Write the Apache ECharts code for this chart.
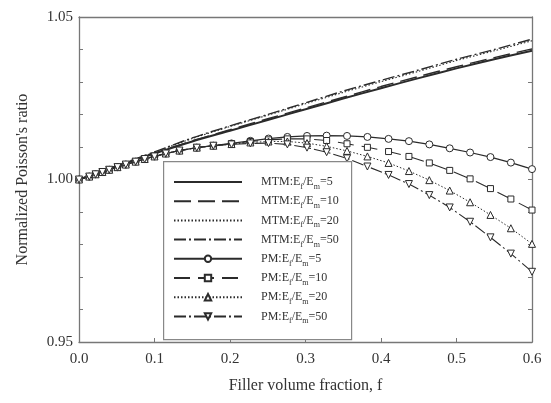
<!DOCTYPE html>
<html>
<head>
<meta charset="utf-8">
<script src="https://cdn.jsdelivr.net/npm/echarts@6/dist/echarts.min.js"></script>
<style>
html,body{margin:0;padding:0;background:#fff;}
#chart{width:551px;height:403px;}
</style>
</head>
<body>
<div id="chart"></div>
<script>
// ---------- data ----------
const xTicks = [0.0, 0.1, 0.2, 0.3, 0.4, 0.5, 0.6];
const yTickLabels = [0.95, 1.00, 1.05];

// MTM curves (no markers)
const fMTM = [0, 0.05, 0.1, 0.15, 0.2, 0.25, 0.3, 0.35, 0.4, 0.45, 0.5, 0.55, 0.6];
const mtm5  = [1.0, 1.0041, 1.0080, 1.0117, 1.0150, 1.0183, 1.0216, 1.0249, 1.0281, 1.0312, 1.0342, 1.0370, 1.0396];
const mtm10 = [1.0, 1.0041, 1.0081, 1.0119, 1.0153, 1.0187, 1.0220, 1.0253, 1.0286, 1.0317, 1.0347, 1.0375, 1.0402];
const mtm20 = [1.0, 1.0042, 1.0084, 1.0126, 1.0163, 1.0198, 1.0233, 1.0268, 1.0301, 1.0333, 1.0366, 1.0396, 1.0427];
const mtm50 = [1.0, 1.0042, 1.0085, 1.0128, 1.0165, 1.0200, 1.0236, 1.0272, 1.0305, 1.0337, 1.0370, 1.0400, 1.0432];

// PM curves (with markers)
const fPM = [0, 0.0136, 0.022, 0.031, 0.04, 0.051, 0.062, 0.075, 0.087, 0.1, 0.115, 0.133, 0.156, 0.178,
             0.202, 0.227, 0.251, 0.276, 0.302, 0.328, 0.355, 0.382, 0.41, 0.437, 0.464, 0.491, 0.518, 0.545, 0.572, 0.6];
const pm5  = [1.0, 1.0009, 1.0016, 1.0023, 1.0030, 1.0038, 1.0046, 1.0055, 1.0063, 1.0071, 1.0080, 1.0089, 1.0098, 1.0104,
              1.0111, 1.0119, 1.0126, 1.0131, 1.0134, 1.0135, 1.0134, 1.0131, 1.0125, 1.0118, 1.0108, 1.0096, 1.0083, 1.0069, 1.0052, 1.0032];
const pm10 = [1.0, 1.0009, 1.0016, 1.0023, 1.0030, 1.0038, 1.0046, 1.0055, 1.0063, 1.0071, 1.0080, 1.0089, 1.0098, 1.0104,
              1.0110, 1.0117, 1.0122, 1.0125, 1.0125, 1.0120, 1.0110, 1.0099, 1.0086, 1.0071, 1.0051, 1.0028, 1.0002, 0.9972, 0.9940, 0.9906];
const pm20 = [1.0, 1.0009, 1.0016, 1.0023, 1.0030, 1.0038, 1.0046, 1.0055, 1.0063, 1.0071, 1.0080, 1.0089, 1.0098, 1.0104,
              1.0109, 1.0114, 1.0117, 1.0117, 1.0112, 1.0102, 1.0088, 1.0071, 1.0051, 1.0026, 0.9998, 0.9966, 0.9930, 0.9891, 0.9850, 0.9802];
const pm50 = [1.0, 1.0009, 1.0016, 1.0023, 1.0030, 1.0038, 1.0046, 1.0055, 1.0063, 1.0071, 1.0080, 1.0089, 1.0098, 1.0104,
              1.0108, 1.0111, 1.0112, 1.0108, 1.0098, 1.0084, 1.0065, 1.0040, 1.0014, 0.9986, 0.9952, 0.9914, 0.9870, 0.9822, 0.9772, 0.9716];

const seriesModels = ['MTM', 'MTM', 'MTM', 'MTM', 'PM', 'PM', 'PM', 'PM'];
const seriesRatios = [5, 10, 20, 50, 5, 10, 20, 50];

// ---------- chart ----------
const SERIF = '"Liberation Serif", "DejaVu Serif", serif';
const LINE = '#2b2b2b';
const AXIS = '#777';

function pairs(xs, ys) { return xs.map((x, i) => [x, ys[i]]); }
function seriesName(i) { return seriesModels[i] + ':E' + seriesRatios[i] + '#' + i; }

const styles = [
  { width: 2.0, type: 'solid' },
  { width: 1.4, type: [17, 7] },
  { width: 1.1, type: [1.5, 2] },
  { width: 1.4, type: [12, 3, 2, 3] },
  { width: 1.2, type: 'solid', symbol: 'circle', rot: 0 },
  { width: 1.1, type: [16, 8], symbol: 'rect', rot: 0 },
  { width: 1.0, type: [1.5, 2], symbol: 'triangle', rot: 0 },
  { width: 1.1, type: [12, 3, 2, 3], symbol: 'triangle', rot: 180 }
];

const mtmData = [mtm5, mtm10, mtm20, mtm50];
const pmData = [pm5, pm10, pm20, pm50];

const series = [];
for (let i = 0; i < 8; i++) {
  const isPM = i >= 4;
  const s = styles[i];
  series.push({
    name: seriesName(i),
    type: 'line',
    data: isPM ? pairs(fPM, pmData[i - 4]) : pairs(fMTM, mtmData[i]),
    smooth: !isPM ? 0.3 : false,
    symbol: isPM ? s.symbol : 'none',
    symbolSize: s.symbol === 'rect' ? 6 : 7,
    symbolRotate: s.rot || 0,
    showAllSymbol: true,
    lineStyle: { color: LINE, width: s.width, type: s.type },
    itemStyle: { color: '#fff', borderColor: LINE, borderWidth: 1 },
    emphasis: { disabled: true },
    z: isPM ? 3 : 2
  });
}

const legendData = series.map((s, i) => i < 4
  ? { name: s.name, itemStyle: { opacity: 0 } }
  : { name: s.name });

const chart = echarts.init(document.getElementById('chart'), null, { renderer: 'canvas' });
chart.setOption({
  animation: false,
  backgroundColor: '#fff',
  grid: { left: 79, right: 19, top: 17, bottom: 61, containLabel: false },
  xAxis: [{
    type: 'value', min: 0, max: 0.6, interval: 0.1,
    name: 'Filler volume fraction, f', nameLocation: 'middle', nameGap: 36,
    nameTextStyle: { fontFamily: SERIF, fontSize: 16, color: '#333' },
    axisLine: { show: true, onZero: false, lineStyle: { color: AXIS, width: 1.3 } },
    axisTick: { show: true, inside: true, length: 4, lineStyle: { color: AXIS } },
    axisLabel: { fontFamily: SERIF, fontSize: 15, color: '#333', margin: 10,
      formatter: v => { const t = xTicks.find(x => Math.abs(x - v) < 1e-6); return t === undefined ? '' : t.toFixed(1); } },
    splitLine: { show: false }
  }, {
    type: 'value', min: 0, max: 0.6, position: 'top',
    axisLine: { show: true, onZero: false, lineStyle: { color: AXIS, width: 1.3 } },
    axisTick: { show: false }, axisLabel: { show: false }, splitLine: { show: false }
  }],
  yAxis: [{
    type: 'value', min: 0.95, max: 1.05, interval: 0.01,
    name: "Normalized Poisson's ratio", nameLocation: 'middle', nameGap: 48, nameRotate: 90,
    nameTextStyle: { fontFamily: SERIF, fontSize: 16, color: '#333' },
    axisLine: { show: true, onZero: false, lineStyle: { color: AXIS, width: 1.3 } },
    axisTick: { show: true, inside: true, length: 4, lineStyle: { color: AXIS } },
    axisLabel: { fontFamily: SERIF, fontSize: 15, color: '#333', margin: 6,
      formatter: v => { const t = yTickLabels.find(y => Math.abs(y - v) < 1e-6); return t === undefined ? '' : t.toFixed(2); } },
    splitLine: { show: false }
  }, {
    type: 'value', min: 0.95, max: 1.05, interval: 0.01, position: 'right',
    axisLine: { show: true, onZero: false, lineStyle: { color: AXIS, width: 1.3 } },
    axisTick: { show: true, inside: true, length: 4, lineStyle: { color: AXIS } },
    axisLabel: { show: false }, splitLine: { show: false }
  }],
  graphic: [{
    type: 'rect', left: 163, top: 161, z: 5,
    shape: { width: 188, height: 178 },
    style: { fill: '#fff', stroke: '#888', lineWidth: 1.2 }
  }],
  legend: {
    orient: 'vertical', left: 173, top: 176, padding: 0,
    itemWidth: 68, itemHeight: 8, itemGap: 4.2, z: 10,
    data: legendData,
    formatter: name => {
      const i = Number(name.split('#')[1]);
      return '{sp|}{n|' + seriesModels[i] + ':E}{s|f}{n|/E}{s|m}{n|=' + seriesRatios[i] + '}';
    },
    textStyle: {
      color: '#333', fontFamily: SERIF, fontSize: 12,
      rich: {
        sp: { width: 14, height: 18 },
        n: { fontFamily: SERIF, fontSize: 12, color: '#333', lineHeight: 14 },
        s: { fontFamily: SERIF, fontSize: 8, color: '#333', lineHeight: 8, verticalAlign: 'bottom' }
      }
    },
    selectedMode: false
  },
  series: series
});
</script>
</body>
</html>
